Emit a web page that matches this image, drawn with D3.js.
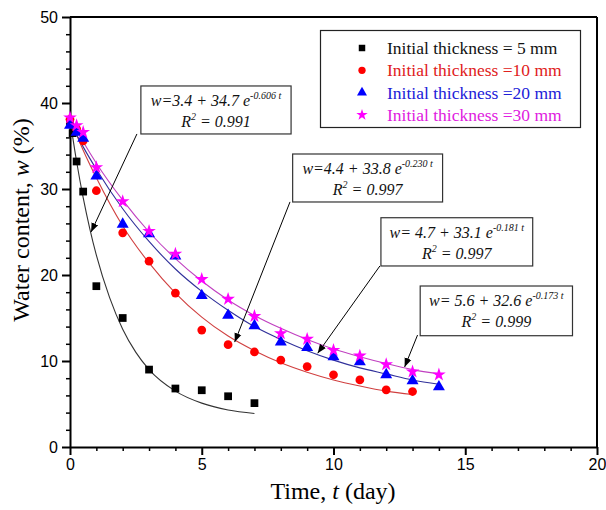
<!DOCTYPE html>
<html><head><meta charset="utf-8">
<script src="https://cdn.jsdelivr.net/npm/d3@7"></script>
<style>
html,body{margin:0;padding:0;background:#fff;}
svg{display:block;}
</style></head>
<body>
<svg id="chart" width="606" height="510"></svg>
<script>
// ---- data ----
const seriesNames = ["Initial thickness = 5 mm","Initial thickness =10 mm","Initial thickness =20 mm","Initial thickness =30 mm"];
const t5  = [0, 0.1, 0.25, 0.5, 1, 2, 3, 4, 5, 6, 7];
const w5  = [37.8, 36.5, 33.2, 29.7, 18.7, 15.0, 9.0, 6.8, 6.6, 5.9, 5.1];
const t10 = [0, 0.25, 0.5, 1, 2, 3, 4, 5, 6, 7, 8, 9, 10, 11, 12, 13];
const w10 = [38.1, 37.0, 35.6, 29.8, 24.9, 21.6, 17.9, 13.6, 11.9, 11.05, 10.1, 9.35, 8.4, 7.8, 6.65, 6.45];
const t20 = [0, 0.25, 0.5, 1, 2, 3, 4, 5, 6, 7, 8, 9, 10, 11, 12, 13, 14];
const w20 = [37.4, 36.6, 35.9, 31.5, 25.9, 24.8, 22.2, 17.6, 15.3, 14.1, 12.2, 11.55, 10.5, 9.9, 8.4, 7.7, 7.0];
const t30 = [0, 0.25, 0.5, 1, 2, 3, 4, 5, 6, 7, 8, 9, 10, 11, 12, 13, 14];
const w30 = [38.3, 37.4, 36.6, 32.5, 28.55, 25.1, 22.45, 19.5, 17.2, 15.2, 13.2, 12.55, 11.25, 10.6, 9.6, 8.75, 8.4];

// fitted curves
const fitT5  = [0, 0.25, 0.5, 0.75, 1, 1.5, 2, 2.5, 3, 4, 5, 6, 7];
const fitW5  = [38.1, 33.2, 29.0, 25.4, 22.3, 17.4, 13.7, 11.0, 9.0, 6.5, 5.1, 4.3, 3.9];
const fitT10 = [0, 0.5, 1, 2, 3, 4, 5, 6, 7, 8, 9, 10, 11, 12, 13];
const fitW10 = [38.2, 34.5, 31.3, 25.7, 21.4, 17.9, 15.1, 12.9, 11.2, 9.8, 8.7, 7.8, 7.1, 6.5, 6.1];
const fitT20 = [0, 0.5, 1, 2, 3, 4, 5, 6, 7, 8, 9, 10, 11, 12, 13, 14];
const fitW20 = [37.8, 34.9, 32.3, 27.7, 23.9, 20.7, 18.1, 15.9, 14.0, 12.5, 11.2, 10.1, 9.2, 8.5, 7.8, 7.3];
const fitT30 = [0, 0.5, 1, 2, 3, 4, 5, 6, 7, 8, 9, 10, 11, 12, 13, 14];
const fitW30 = [38.2, 35.5, 33.0, 28.7, 25.0, 21.9, 19.3, 17.1, 15.3, 13.8, 12.5, 11.4, 10.5, 9.7, 9.0, 8.5];

const xTicks = [0, 5, 10, 15, 20];
const yTicks = [0, 10, 20, 30, 40, 50];

// annotation texts: [main, exponent, R2]
const eqMain = ["w=3.4 + 34.7 e", "w=4.4 + 33.8 e", "w= 4.7 + 33.1 e", "w= 5.6 + 32.6 e"];
const eqExp  = ["-0.606 t", "-0.230 t", "-0.181 t", "-0.173 t"];
const eqR2   = ["0.991", "0.997", "0.997", "0.999"];
// box extents in data units [t0, t1, wTop, wBottom], arrow [tFrom, wFrom, tTo, wTo]
const boxT0 = [2.69, 8.45, 11.8, 13.29];
const boxT1 = [8.39, 14.14, 17.56, 19.07];
const boxWt = [41.98, 34.07, 26.66, 18.72];
const boxWb = [36.4, 28.49, 21.05, 12.94];
const arrFromT = [2.54, 8.35, 11.76, 13.19];
const arrFromW = [36.4, 28.5, 21.05, 13.02];
const arrToT = [0.80, 6.25, 9.40, 12.70];
const arrToW = [25.0, 12.2, 10.9, 9.3];

// ---- styling ----
const ptColors = ["#000000", "#ff0000", "#0000ff", "#ff00ff"];
const txtColors = ["#111111", "#e02020", "#2020d8", "#e020e0"];
const lineColors = ["#333333", "#d04040", "#30309a", "#c040c0"];
const symTypes = [d3.symbolSquare, d3.symbolCircle, d3.symbolTriangle, d3.symbolStar];
const symSizes = [60, 60, 62, 58];

const svg = d3.select("#chart");
const L = 70, R = 597, T = 17, B = 447;
const x = d3.scaleLinear().domain([0, 20]).range([L, R]);
const y = d3.scaleLinear().domain([0, 50]).range([B, T]);

const serif = "'Liberation Serif','Times New Roman',serif";
const sans = "'Liberation Sans',Arial,sans-serif";

// frame top/right
svg.append("line").attr("x1", L).attr("x2", R).attr("y1", T).attr("y2", T).attr("stroke", "#000").attr("stroke-width", 2);
svg.append("line").attr("x1", R).attr("x2", R).attr("y1", T).attr("y2", B).attr("stroke", "#000").attr("stroke-width", 2);

// minor ticks
const xMinor = d3.range(0, 21, 1).filter(v => v % 5 !== 0);
const yMinor = d3.range(0, 51, 2).filter(v => v % 10 !== 0);
const xAxisMinor = svg.append("g").attr("transform", `translate(0,${B})`)
  .call(d3.axisBottom(x).tickValues(xMinor).tickSize(4).tickFormat(""));
const yAxisMinor = svg.append("g").attr("transform", `translate(${L},0)`)
  .call(d3.axisLeft(y).tickValues(yMinor).tickSize(4).tickFormat(""));
[xAxisMinor, yAxisMinor].forEach(g => {
  g.select(".domain").remove();
  g.selectAll("line").attr("stroke", "#000").attr("stroke-width", 1.5);
});

const xAxis = svg.append("g").attr("transform", `translate(0,${B})`)
  .call(d3.axisBottom(x).tickValues(xTicks).tickSize(8).tickSizeOuter(0).tickPadding(4).tickFormat(d3.format("d")));
const yAxis = svg.append("g").attr("transform", `translate(${L},0)`)
  .call(d3.axisLeft(y).tickValues(yTicks).tickSize(8).tickSizeOuter(0).tickPadding(4).tickFormat(d3.format("d")));
[xAxis, yAxis].forEach(g => {
  g.select(".domain").attr("stroke", "#000").attr("stroke-width", 2);
  g.selectAll("line").attr("stroke", "#000").attr("stroke-width", 2);
  g.selectAll("text").attr("fill", "#000").style("font-family", sans).style("font-size", "16px");
});

// axis titles
const xt = svg.append("text").attr("x", 333).attr("y", 499).attr("text-anchor", "middle")
  .style("font-family", serif).style("font-size", "24px").attr("fill", "#000");
xt.append("tspan").text("Time, ");
xt.append("tspan").style("font-style", "italic").text("t");
xt.append("tspan").text(" (day)");

const yt = svg.append("text").attr("transform", "translate(29,220) rotate(-90)").attr("text-anchor", "middle")
  .style("font-family", serif).style("font-size", "24px").attr("fill", "#000");
yt.append("tspan").text("Water content, ");
yt.append("tspan").style("font-style", "italic").text("w");
yt.append("tspan").text(" (%)");

// fitted curves
const fits = [[fitT5, fitW5], [fitT10, fitW10], [fitT20, fitW20], [fitT30, fitW30]];
const line = d3.line().x(d => x(d[0])).y(d => y(d[1])).curve(d3.curveMonotoneX);
fits.forEach((f, i) => {
  const pts = f[0].map((t, j) => [t, f[1][j]]);
  svg.append("path").attr("d", line(pts)).attr("fill", "none")
    .attr("stroke", lineColors[i]).attr("stroke-width", 1.1);
});

// points
const pts = [[t5, w5], [t10, w10], [t20, w20], [t30, w30]];
pts.forEach((p, i) => {
  const sym = d3.symbol().type(symTypes[i]).size(symSizes[i]);
  svg.append("g").selectAll("path").data(p[0].map((t, j) => [t, p[1][j]])).join("path")
    .attr("d", sym)
    .attr("transform", d => `translate(${x(d[0])},${y(d[1])})`)
    .attr("fill", ptColors[i]);
});

// legend
const lg = svg.append("g");
lg.append("rect").attr("x", 320.5).attr("y", 30.5).attr("width", 260).attr("height", 97)
  .attr("fill", "#fff").attr("stroke", "#222").attr("stroke-width", 1.2);
seriesNames.forEach((name, i) => {
  const yy = 48 + i * 22.3;
  lg.append("path").attr("d", d3.symbol().type(symTypes[i]).size(symSizes[i] * 0.7))
    .attr("transform", `translate(362,${yy})`).attr("fill", ptColors[i]);
  lg.append("text").attr("x", 387).attr("y", yy + 6).text(name)
    .style("font-family", serif).style("font-size", "17.5px").attr("fill", txtColors[i]);
});

// annotations
svg.append("defs").append("marker").attr("id", "arr").attr("viewBox", "0 0 10 10")
  .attr("refX", 10).attr("refY", 5).attr("markerWidth", 9).attr("markerHeight", 9)
  .attr("markerUnits", "userSpaceOnUse").attr("orient", "auto")
  .append("path").attr("d", "M0,1 L10,5 L0,9 Z").attr("fill", "#000");

eqMain.forEach((m, i) => {
  const x0 = x(boxT0[i]), x1 = x(boxT1[i]), y0 = y(boxWt[i]), y1 = y(boxWb[i]);
  svg.append("line").attr("x1", x(arrFromT[i])).attr("y1", y(arrFromW[i]))
    .attr("x2", x(arrToT[i])).attr("y2", y(arrToW[i]))
    .attr("stroke", "#000").attr("stroke-width", 1).attr("marker-end", "url(#arr)");
  svg.append("rect").attr("x", x0).attr("y", y0).attr("width", x1 - x0).attr("height", y1 - y0)
    .attr("fill", "#fff").attr("stroke", "#333").attr("stroke-width", 1.2);
  const cx = (x0 + x1) / 2;
  const t1 = svg.append("text").attr("x", cx).attr("y", y0 + 20).attr("text-anchor", "middle")
    .style("font-family", serif).style("font-style", "italic").style("font-size", "16px").attr("fill", "#111");
  t1.append("tspan").text(m);
  t1.append("tspan").attr("dy", -7).style("font-size", "10px").text(eqExp[i]);
  const t2 = svg.append("text").attr("x", cx).attr("y", y0 + 41).attr("text-anchor", "middle")
    .style("font-family", serif).style("font-style", "italic").style("font-size", "16px").attr("fill", "#111");
  t2.append("tspan").text("R");
  t2.append("tspan").attr("dy", -7).style("font-size", "10px").text("2");
  t2.append("tspan").attr("dy", 7).text(" = " + eqR2[i]);
});
</script>
</body></html>
